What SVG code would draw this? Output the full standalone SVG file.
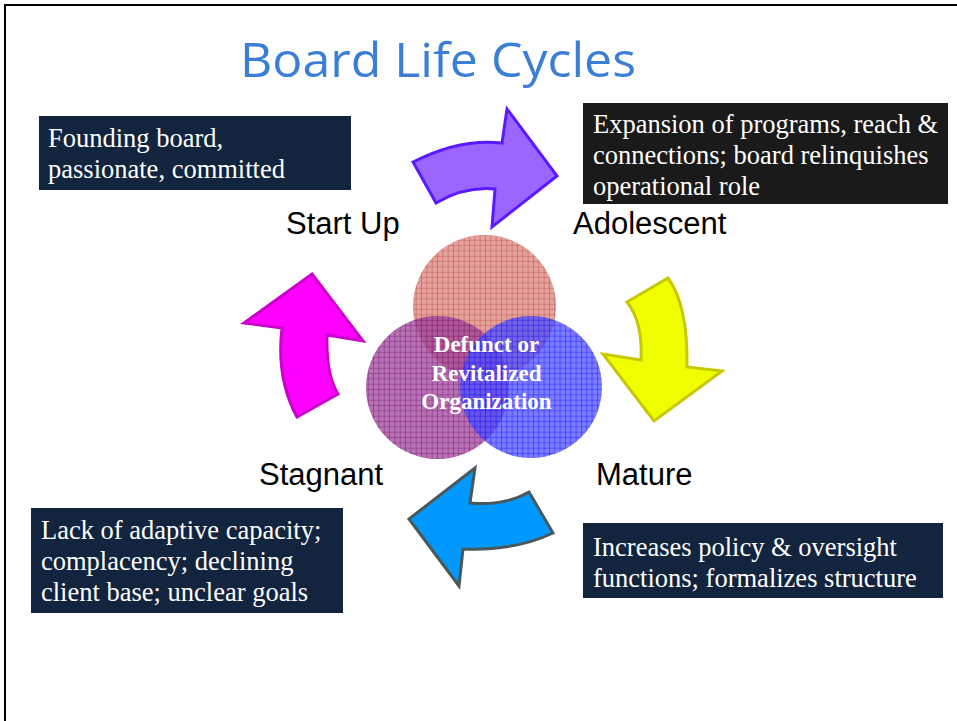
<svg xmlns="http://www.w3.org/2000/svg" width="957" height="721" viewBox="0 0 957 721">
  <defs>
    <style>
      .title { font-family: "Open Sans", "Liberation Sans", sans-serif; font-size: 48px; fill: #3a7fd5; }
      .stage { font-family: "Liberation Sans", Arial, sans-serif; font-size: 31px; fill: #000; }
      .note { font-family: "Liberation Serif", "Times New Roman", serif; font-size: 26.5px; fill: #ffffff; }
      .core { font-family: "Liberation Serif", "Times New Roman", serif; font-size: 23px; font-weight: bold; fill: #ffffff; text-anchor: middle; }
      .navy { fill: #13243f; }
      .charcoal { fill: #1a1a1a; }
      .arrow { stroke-width: 3; stroke-linejoin: miter; }
    </style>
    <!-- hatched grid fills for the three overlapping circles -->
    <pattern id="gridRed" width="5.33" height="5.33" patternUnits="userSpaceOnUse">
      <rect width="5.33" height="5.33" fill="#d9827a" fill-opacity="0.75"/>
      <path d="M0 0H5.33M0 0V5.33" stroke="#c04848" stroke-width="1" stroke-opacity="0.9"/>
    </pattern>
    <pattern id="gridPurple" width="5.33" height="5.33" patternUnits="userSpaceOnUse">
      <rect width="5.33" height="5.33" fill="#9a3c94" fill-opacity="0.72"/>
      <path d="M0 0H5.33M0 0V5.33" stroke="#7a1478" stroke-width="1" stroke-opacity="0.9"/>
    </pattern>
    <pattern id="gridBlue" width="5.33" height="5.33" patternUnits="userSpaceOnUse">
      <rect width="5.33" height="5.33" fill="#4848ff" fill-opacity="0.72"/>
      <path d="M0 0H5.33M0 0V5.33" stroke="#1818ff" stroke-width="1" stroke-opacity="0.9"/>
    </pattern>
  </defs>

  <rect width="957" height="721" fill="#ffffff"/>
  <!-- slide frame -->
  <path d="M5 721V5H957" fill="none" stroke="#000" stroke-width="2"/>

  <g id="title">
    <text class="title" x="240" y="77" textLength="396" lengthAdjust="spacingAndGlyphs">Board Life Cycles</text>
  </g>

  <!-- centre: three overlapping circles -->
  <g id="core">
    <circle cx="484.5" cy="306.5" r="71.5" fill="url(#gridRed)"/>
    <circle cx="437.5" cy="387.5" r="71.5" fill="url(#gridPurple)"/>
    <circle cx="531" cy="387" r="71" fill="url(#gridBlue)"/>
    <text class="core" x="486.5" y="352">Defunct or</text>
    <text class="core" x="486.5" y="381">Revitalized</text>
    <text class="core" x="486.5" y="409">Organization</text>
  </g>

  <!-- curved block arrows running clockwise between stages -->
  <g id="connectors">
    <path id="arrow-startup-adolescent" class="arrow" fill="#9966ff" stroke="#5a1aff"
          d="M413,162 Q460,138 502,143 L507,109 L557,176 L492,227 L495,189 Q465,186 436,203 Z"/>
    <path id="arrow-adolescent-mature" class="arrow" fill="#f0ff00" stroke="#c8c800"
          d="M627,302 L668,278 Q688,305 687,367 L722,371 L654,421 L603,354 L641,360 Q643,322 627,302 Z"/>
    <path id="arrow-mature-stagnant" class="arrow" fill="#0099ff" stroke="#4a585c"
          d="M529,492 Q505,506 470,503 L475,468 L409,519 L459,586 L463,549 Q515,551 553,533 Z"/>
    <path id="arrow-stagnant-startup" class="arrow" fill="#ff00ff" stroke="#cc00cc"
          d="M312,274 L363,341 L327,335 Q326,375 338,394 L297,417 Q276,378 282,328 L244,323 Z"/>
  </g>

  <g id="startup">
    <rect class="navy" x="39" y="116" width="312" height="74"/>
    <text class="note" x="48" y="147">Founding board,</text>
    <text class="note" x="48" y="178">passionate, committed</text>
    <text class="stage" x="286" y="234">Start Up</text>
  </g>

  <g id="adolescent">
    <rect class="charcoal" x="583" y="103" width="365" height="101"/>
    <text class="note" x="593" y="133">Expansion of programs, reach &amp;</text>
    <text class="note" x="593" y="164">connections; board relinquishes</text>
    <text class="note" x="593" y="195">operational role</text>
    <text class="stage" x="573" y="234">Adolescent</text>
  </g>

  <g id="mature">
    <text class="stage" x="596" y="485">Mature</text>
    <rect class="navy" x="583" y="523" width="360" height="75"/>
    <text class="note" x="593" y="556">Increases policy &amp; oversight</text>
    <text class="note" x="593" y="587">functions; formalizes structure</text>
  </g>

  <g id="stagnant">
    <text class="stage" x="259" y="485">Stagnant</text>
    <rect class="navy" x="31" y="508" width="312" height="105"/>
    <text class="note" x="41" y="539">Lack of adaptive capacity;</text>
    <text class="note" x="41" y="570">complacency; declining</text>
    <text class="note" x="41" y="601">client base; unclear goals</text>
  </g>
</svg>
